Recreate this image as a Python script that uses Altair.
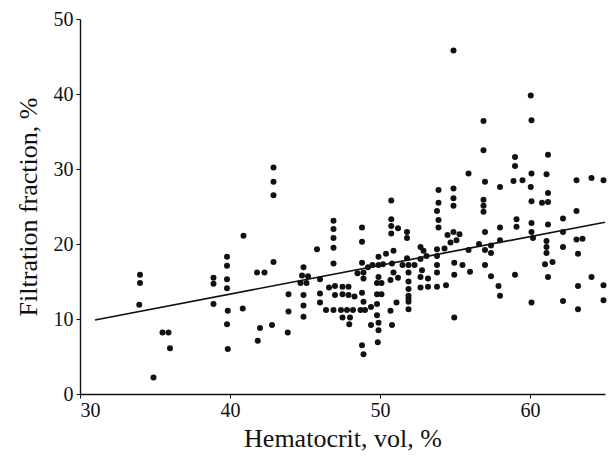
import altair as alt
import pandas as pd

# Hematocrit (vol %) values
hematocrit = [
    34.0, 34.0, 33.95, 35.5, 35.9, 36.0, 34.9,
    38.9, 38.9, 38.9, 39.8, 39.8, 39.8, 39.8, 39.85, 39.8, 39.85,
    42.9, 42.9, 42.9, 40.9, 40.85, 41.8, 42.3, 42.9, 42.0, 41.85, 42.8, 43.9, 43.9, 43.85,
    44.9, 44.8, 45.2, 44.7, 45.1, 44.9, 44.9, 44.9, 45.8, 46.0, 46.0, 46.0, 46.4, 46.9,
    46.6, 47.0, 47.0, 46.9, 46.9, 46.9, 46.9, 46.9,
    47.4, 47.8, 48.2, 48.7, 49.0, 49.4,
    47.5, 47.9, 47.5, 47.9, 48.3,
    47.5, 48.0, 47.95,
    48.8, 48.8, 48.8, 48.5, 48.9, 48.9, 48.8, 48.9,
    48.8, 48.9, 49.4, 49.2, 49.5, 49.9, 50.2, 49.9, 50.4, 50.9, 50.8, 50.9, 51.2, 50.7,
    49.9, 49.8, 50.1, 49.8, 50.1, 49.8, 49.8, 49.9, 49.9, 49.85, 50.7, 51.1, 50.8,
    50.75, 50.75, 50.75, 51.2, 50.75, 51.8, 51.8, 51.8, 51.5, 51.9, 52.3, 51.9, 51.9,
    51.9, 51.9, 51.9, 51.9, 51.9,
    56.9, 55.9, 57.0, 53.9, 54.9, 54.9, 54.9, 53.9, 53.8, 53.9, 53.9, 56.9, 56.9, 56.9,
    57.0, 56.6, 57.0, 57.4, 57.4, 57.0, 57.4, 55.9, 56.0, 55.5, 54.95, 54.95, 54.95,
    54.5, 54.9, 55.3, 54.7, 55.1, 54.3, 53.8, 53.8, 53.8, 53.8, 53.8, 54.4, 53.2, 53.2,
    52.7, 52.7, 52.8, 52.7, 52.7, 52.9, 53.1,
    59.0, 61.2, 59.0, 58.9, 59.5, 60.1, 61.1, 58.0, 60.05, 60.1, 60.8, 61.2, 61.2,
    63.1, 64.1, 64.9, 63.1, 58.0, 59.1, 59.1, 60.1, 60.1, 61.2, 62.2, 62.2, 58.0,
    60.2, 61.1, 61.1, 61.1, 61.0, 61.5, 62.2, 63.1, 63.5, 63.2, 59.0, 61.2, 64.1,
    57.9, 58.0, 60.1, 62.2, 63.2, 63.2, 64.9, 64.9,
    54.9, 60.05, 56.9, 60.1,
]

# Filtration fraction (%) values
filtration = [
    15.9, 14.8, 11.9, 8.2, 8.2, 6.1, 2.2,
    15.5, 14.7, 12.0, 18.3, 17.1, 15.3, 14.1, 11.1, 9.3, 6.0,
    30.2, 28.3, 26.5, 21.1, 11.4, 16.2, 16.2, 17.6, 8.8, 7.1, 9.2, 13.3, 11.0, 8.2,
    16.9, 15.8, 15.7, 14.8, 14.8, 13.2, 11.8, 10.3, 19.3, 15.3, 13.4, 12.2, 11.2, 11.2,
    14.2, 14.4, 13.2, 23.1, 22.0, 20.8, 19.5, 17.4,
    11.2, 11.2, 11.2, 11.2, 11.2, 11.6,
    14.3, 14.3, 13.3, 13.2, 13.0,
    10.2, 10.2, 9.3,
    22.2, 20.3, 17.5, 16.1, 16.2, 15.4, 13.5, 12.3,
    6.5, 5.3, 9.2, 16.9, 17.2, 17.2, 17.3, 18.3, 18.7, 19.1, 17.4, 16.2, 15.5, 15.2,
    15.6, 14.8, 14.8, 13.3, 13.3, 12.0, 10.5, 9.5, 8.5, 6.9, 11.1, 12.2, 9.2,
    25.8, 23.3, 22.4, 22.1, 21.4, 21.6, 20.8, 18.1, 17.2, 17.2, 17.2, 16.2, 15.0,
    14.0, 13.1, 12.3, 11.3, 12.7,
    32.5, 29.4, 28.3, 27.2, 27.4, 26.1, 25.1, 25.5, 24.4, 23.2, 22.2, 25.9, 25.1, 24.3,
    21.6, 20.0, 19.2, 19.8, 18.8, 17.2, 15.7, 19.2, 16.3, 17.2, 17.5, 15.9, 10.2,
    21.2, 21.6, 21.3, 20.2, 20.5, 19.4, 19.3, 18.4, 17.2, 16.2, 14.3, 14.5, 15.4, 14.3,
    15.6, 14.2, 16.5, 18.0, 19.6, 19.1, 18.4,
    31.6, 31.9, 30.4, 28.4, 28.5, 29.4, 29.3, 27.6, 27.6, 25.7, 25.5, 25.6, 26.8,
    28.5, 28.8, 28.5, 24.4, 22.2, 23.3, 22.3, 22.8, 21.6, 22.6, 23.4, 21.6, 20.5,
    20.8, 20.4, 19.6, 18.8, 17.3, 17.6, 19.6, 20.6, 20.7, 18.7, 15.9, 15.6, 15.6,
    14.4, 13.1, 12.2, 12.4, 14.4, 11.3, 14.5, 12.5,
    45.8, 39.8, 36.4, 36.5,
]

# Regression line end points
line_x = [31.0, 65.0]
line_y = [9.87, 22.9]

x_ticks = [30, 40, 50, 60]
y_ticks = [0, 10, 20, 30, 40, 50]

pts = pd.DataFrame({"hct": hematocrit, "ff": filtration})
ln = pd.DataFrame({"hct": line_x, "ff": line_y})

FONT = "Liberation Serif"

xscale = alt.Scale(domain=[30, 65], nice=False, zero=False)
yscale = alt.Scale(domain=[0, 50], nice=False)

xaxis = alt.Axis(values=x_ticks, title="Hematocrit, vol, %", grid=False,
                 labelPadding=2, titlePadding=5, tickSize=4)
yaxis = alt.Axis(values=y_ticks, title="Filtration fraction, %", grid=False,
                 labelPadding=3, titlePadding=12, tickSize=4)

points = alt.Chart(pts).mark_circle(size=36, color="#111", opacity=1).encode(
    x=alt.X("hct:Q", scale=xscale, axis=xaxis),
    y=alt.Y("ff:Q", scale=yscale, axis=yaxis),
)

line = alt.Chart(ln).mark_line(color="#111", strokeWidth=1.7).encode(
    x=alt.X("hct:Q", scale=xscale),
    y=alt.Y("ff:Q", scale=yscale),
)

chart = alt.layer(points, line).properties(
    width=525, height=375,
    autosize=alt.AutoSizeParams(type="none"),
    padding={"left": 80, "top": 19, "right": 8, "bottom": 68},
    background="white",
).configure_view(stroke=None).configure_axis(
    labelFont=FONT, titleFont=FONT, labelFontSize=20, titleFontSize=26,
    titleFontWeight="normal", labelColor="#111", titleColor="#111",
    domainColor="#111", tickColor="#111", domainWidth=1.4,
)

chart.save("out.html", embed_options={"renderer": "svg", "actions": False})
